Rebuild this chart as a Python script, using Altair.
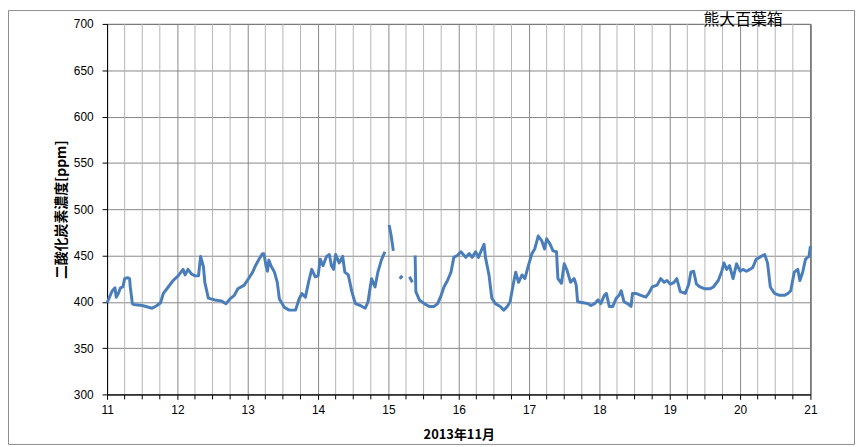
import altair as alt
import pandas as pd

# time (day of November 2013) and CO2 concentration [ppm]; None = missing data
days = [11.00, 11.075, 11.113, 11.13, 11.16, 11.19, 11.225, 11.25, 11.29, 11.32, 11.33, 11.36, 11.38,
        11.50, 11.64, 11.71, 11.76, 11.80, 11.87, 11.94, 12.01, 12.08, 12.11, 12.15, 12.20, 12.25,
        12.30, 12.33, 12.37, 12.39, 12.44, 12.53, 12.62, 12.69, 12.76, 12.81, 12.86, 12.95, 13.02,
        13.07, 13.11, 13.16, 13.21, 13.23, 13.26, 13.28, 13.30, 13.33, 13.38, 13.42, 13.45, 13.52,
        13.59, 13.68, 13.73, 13.77, 13.82, 13.87, 13.91, 13.96, 14.00, 14.03, 14.07, 14.12, 14.16,
        14.19, 14.22, 14.25, 14.30, 14.35, 14.38, 14.43, 14.48, 14.53, 14.60, 14.67, 14.71, 14.76,
        14.81, 14.85, 14.90, 14.95, 14.98, 15.01, 15.04, 15.07, 15.12, 15.16, 15.20, 15.25, 15.30,
        15.34, 15.36, 15.38, 15.39, 15.44, 15.51, 15.58, 15.65, 15.70, 15.75, 15.79, 15.84, 15.89,
        15.93, 15.98, 16.03, 16.10, 16.15, 16.19, 16.24, 16.28, 16.33, 16.36, 16.38, 16.43, 16.47,
        16.52, 16.59, 16.64, 16.69, 16.73, 16.78, 16.81, 16.85, 16.90, 16.94, 16.99, 17.04, 17.08,
        17.13, 17.18, 17.22, 17.25, 17.30, 17.34, 17.39, 17.41, 17.46, 17.50, 17.54, 17.59, 17.64,
        17.65, 17.67, 17.69, 17.77, 17.84, 17.88, 17.93, 17.98, 18.02, 18.07, 18.10, 18.14, 18.19,
        18.24, 18.28, 18.31, 18.35, 18.40, 18.45, 18.47, 18.52, 18.59, 18.66, 18.70, 18.75, 18.82,
        18.87, 18.92, 18.96, 19.01, 19.06, 19.10, 19.15, 19.22, 19.27, 19.30, 19.34, 19.38, 19.43,
        19.50, 19.57, 19.62, 19.69, 19.74, 19.77, 19.81, 19.85, 19.90, 19.95, 20.00, 20.04, 20.09,
        20.14, 20.18, 20.23, 20.30, 20.35, 20.39, 20.43, 20.49, 20.56, 20.63, 20.68, 20.72, 20.77,
        20.82, 20.85, 20.89, 20.93, 20.98, 21.00]

ppm = [399, 412, 415, 405, 409, 415, 416, 425, 426, 425, 416, 398, 397,
       396, 393, 396, 399, 409, 416, 423, 428, 435, 429, 435, 430, 428,
       428, 449, 438, 421, 404, 402, 401, 398, 404, 407, 414, 418, 426,
       432, 439, 446, 452, 452, 439, 433, 445, 439, 432, 421, 403, 394,
       391, 391, 403, 409, 405, 423, 435, 427, 428, 446, 439, 449, 451,
       439, 435, 451, 442, 449, 432, 429, 411, 398, 396, 393, 400, 425,
       416, 432, 445, 454, None, 483, 471, 455, None, 425, 428, None, 427,
       421, None, 450, 411, 402, 398, 395, 395, 398, 407, 416, 423, 432,
       448, 450, 454, 448, 452, 448, 454, 448, 457, 462, 448, 429, 404,
       398, 395, 391, 395, 400, 421, 432, 421, 429, 425, 439, 452, 457,
       471, 466, 457, 468, 462, 455, 454, 425, 420, 441, 434, 421, 425,
       423, 418, 400, 399, 398, 396, 398, 402, 398, 407, 409, 395, 395,
       404, 407, 412, 400, 398, 395, 409, 409, 407, 405, 409, 416, 418,
       425, 421, 423, 419, 421, 425, 411, 409, 419, 432, 433, 419, 416,
       414, 414, 416, 423, 433, 442, 435, 439, 425, 441, 433, 435, 433,
       435, 437, 446, 449, 451, 442, 416, 409, 407, 407, 409, 412, 432,
       435, 423, 432, 446, 449, 460]

y_ticks = [300, 350, 400, 450, 500, 550, 600, 650, 700]
x_major = [11, 12, 13, 14, 15, 16, 17, 18, 19, 20, 21]
x_minor = [d + q for d in x_major[:-1] for q in (0.25, 0.5, 0.75)]
title_text = "熊大百葉箱"
y_title = "二酸化炭素濃度[ppm]"
x_title = "2013年11月"

rows = []
seg = 0
for d, v in zip(days, ppm):
    if v is None:
        seg += 1
        continue
    rows.append({"day": d, "ppm": v, "seg": seg})
df = pd.DataFrame(rows)
minor_df = pd.DataFrame({"g": x_minor})

LABEL_FONT = "Liberation Sans"
JP_FONT = "Noto Sans CJK JP"

xscale = alt.Scale(domain=[11, 21], nice=False, zero=False)

line = alt.Chart(df).mark_line(color="#4a7ebb", strokeWidth=3, strokeJoin="round").encode(
    x=alt.X("day:Q",
            scale=xscale,
            axis=alt.Axis(values=x_major,
                          format="d",
                          title=x_title,
                          titleFont=JP_FONT, titleFontSize=13, titleFontWeight="bold",
                          titleColor="black",
                          titleY=40, titleBaseline="middle",
                          labelFont=LABEL_FONT, labelFontSize=12, labelColor="black",
                          labelPadding=5, labelFlush=False, labelOverlap=False,
                          tickColor="black", tickSize=5, domainColor="black",
                          gridColor="#878787", gridWidth=1)),
    y=alt.Y("ppm:Q",
            scale=alt.Scale(domain=[300, 700], nice=False, zero=False),
            axis=alt.Axis(values=y_ticks, title=y_title,
                          titleFont=JP_FONT, titleFontSize=14, titleFontWeight="bold",
                          titleColor="black",
                          titleX=-46, titleY=187, titleAlign="center", titleBaseline="middle",
                          titleAngle=270,
                          labelFont=LABEL_FONT, labelFontSize=12, labelColor="black",
                          labelPadding=9,
                          tickColor="black", tickSize=5, domainColor="black",
                          gridColor="#878787", gridWidth=1)),
    detail="seg:N",
)

minor_grid = alt.Chart(minor_df).mark_rule(color="#b5b5b5", strokeWidth=1).encode(
    x=alt.X("g:Q", scale=xscale),
    y=alt.value(0), y2=alt.value(374),
)

minor_ticks = alt.Chart(minor_df).mark_rule(color="black", strokeWidth=1).encode(
    x=alt.X("g:Q", scale=xscale),
    y=alt.value(374), y2=alt.value(379),
)

one = alt.Data(values=[{"t": title_text}])

frame = alt.Chart(one).mark_rect(fill="white", fillOpacity=0, stroke="#8c8c8c", strokeWidth=1).encode(
    x=alt.value(-99.5), x2=alt.value(754.5), y=alt.value(-13.5), y2=alt.value(424.5)
)

title = alt.Chart(one).mark_text(font=JP_FONT, fontSize=16, color="black",
                                 align="center", baseline="middle").encode(
    x=alt.value(642), y=alt.value(-4), text="t:N"
)

chart = alt.layer(frame, minor_grid, minor_ticks, line, title).properties(
    width=710, height=374,
    padding={"left": 100, "top": 14, "right": 45, "bottom": 51},
    autosize=alt.AutoSizeParams(type="none"),
    background="white",
).configure_view(stroke="black", strokeWidth=1)

chart.save("out.html", embed_options={"renderer": "svg", "actions": False})
